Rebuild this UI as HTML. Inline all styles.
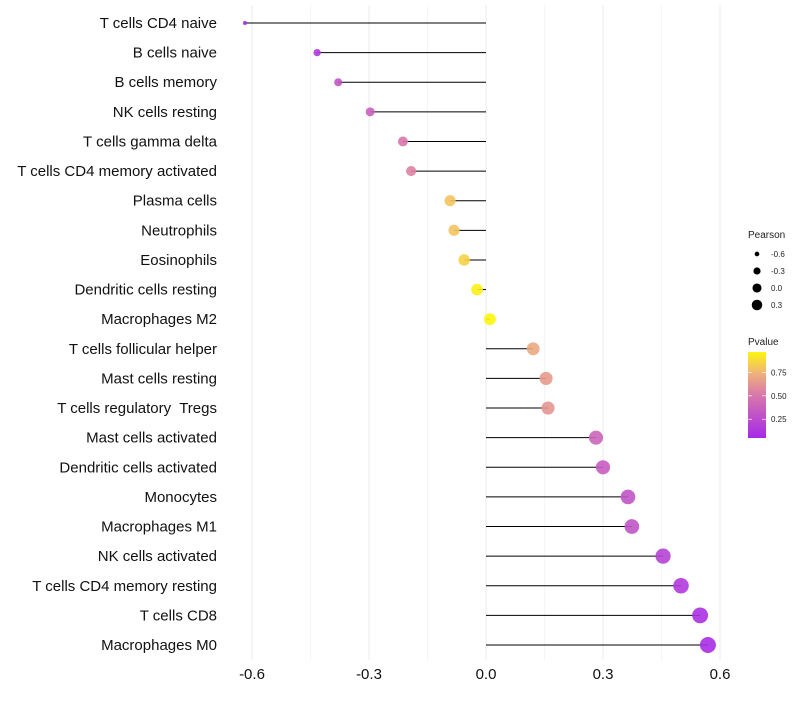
<!DOCTYPE html>
<html><head><meta charset="utf-8"><style>
body{margin:0;background:#fff;font-family:"Liberation Sans",sans-serif}
text{white-space:pre}
</style></head><body>
<svg id="chart" width="800" height="700" xmlns="http://www.w3.org/2000/svg" font-family="Liberation Sans, sans-serif"></svg>
<script>
const categories=["T cells CD4 naive","B cells naive","B cells memory","NK cells resting","T cells gamma delta","T cells CD4 memory activated","Plasma cells","Neutrophils","Eosinophils","Dendritic cells resting","Macrophages M2","T cells follicular helper","Mast cells resting","T cells regulatory  Tregs","Mast cells activated","Dendritic cells activated","Monocytes","Macrophages M1","NK cells activated","T cells CD4 memory resting","T cells CD8","Macrophages M0"];
const pearson=[-0.618,-0.433,-0.379,-0.297,-0.213,-0.192,-0.092,-0.082,-0.056,-0.023,0.010,0.121,0.154,0.159,0.282,0.300,0.364,0.374,0.454,0.500,0.549,0.569];
const pvalue=[0.05,0.15,0.3,0.38,0.5,0.55,0.8,0.8,0.85,0.95,0.97,0.7,0.65,0.63,0.4,0.35,0.3,0.3,0.2,0.15,0.1,0.08];
const xTicks=[-0.6,-0.3,0.0,0.3,0.6];
const xTickLabels=["-0.6","-0.3","0.0","0.3","0.6"];
const sizeLegend=[-0.6,-0.3,0.0,0.3];
const sizeLegendLabels=["-0.6","-0.3","0.0","0.3"];
const colorLegendTicks=[0.25,0.5,0.75];
const colorLegendLabels=["0.25","0.50","0.75"];

const svg=document.getElementById('chart');
const NS="http://www.w3.org/2000/svg";
function el(t,a,p){const e=document.createElementNS(NS,t);for(const k in a)e.setAttribute(k,a[k]);(p||svg).appendChild(e);return e;}
const xs=v=>486+v*390;
const ys=i=>23+i*(622/(categories.length-1));
const rs=v=>Math.sqrt(Math.max(3,4+50.5*(v+0.618)));
const rl=v=>Math.sqrt(Math.max(3,5+25*(v+0.618)));
function col(p){
  const stops=[[0,[160,32,240]],[0.5,[214,118,172]],[0.75,[240,180,120]],[1,[255,255,0]]];
  for(let i=1;i<stops.length;i++){if(p<=stops[i][0]){const a=stops[i-1],b=stops[i],t=(p-a[0])/(b[0]-a[0]);return 'rgb('+a[1].map((c,j)=>Math.round(c+(b[1][j]-c)*t)).join(',')+')';}}
  return 'rgb(255,255,0)';
}
for(let k=-0.6;k<=0.61;k+=0.15){
  const g=el('line',{x1:xs(k),x2:xs(k),y1:5,y2:660,stroke:'#ebebeb','stroke-width':Math.abs(Math.round(k/0.3)*0.3-k)<0.01?1:0.5});
  
  
}
xTicks.forEach((v,i)=>{
  const t=el('text',{x:xs(v),y:679,'text-anchor':'middle','font-size':15,fill:'#111'});
  t.textContent=xTickLabels[i];
  
  
});
categories.forEach((c,i)=>{
  const y=ys(i);
  const t=el('text',{x:217,y:y+5,'text-anchor':'end','font-size':15,fill:'#111'});
  t.textContent=c;
  
  
  const l=el('line',{x1:xs(0),x2:xs(pearson[i]),y1:y,y2:y,stroke:'#000','stroke-width':1});
  
  
  const d=el('circle',{cx:xs(pearson[i]),cy:y,r:rs(pearson[i]),fill:col(pvalue[i]),'fill-opacity':0.9});
  
  
});
let lt=el('text',{x:748,y:238,'font-size':10,fill:'#222'});lt.textContent='Pearson';


sizeLegend.forEach((v,i)=>{
  const y=254+i*17;
  const c=el('circle',{cx:757,cy:y,r:rl(v),fill:'#000'});
  
  
  const t=el('text',{x:771,y:y+3,'font-size':8,fill:'#222'});t.textContent=sizeLegendLabels[i];
  
  
});
lt=el('text',{x:748,y:345,'font-size':10,fill:'#222'});lt.textContent='Pvalue';


const defs=el('defs',{});
const gr=el('linearGradient',{id:'pg',x1:0,y1:1,x2:0,y2:0},defs);
[0,0.25,0.5,0.75,1].forEach(s=>{el('stop',{offset:s,'stop-color':col(0.05+s*0.917)},gr);});
const bar=el('rect',{x:748,y:352,width:18,height:86,fill:'url(#pg)'});


colorLegendTicks.forEach((v,i)=>{
  const y=438-(v-0.05)/0.917*86;
  el('line',{x1:748,x2:752,y1:y,y2:y,stroke:'#fff','stroke-width':0.7});
  el('line',{x1:762,x2:766,y1:y,y2:y,stroke:'#fff','stroke-width':0.7});
  const t=el('text',{x:771,y:y+3,'font-size':8,fill:'#222'});t.textContent=colorLegendLabels[i];
  
  
});
</script>
</body></html>
